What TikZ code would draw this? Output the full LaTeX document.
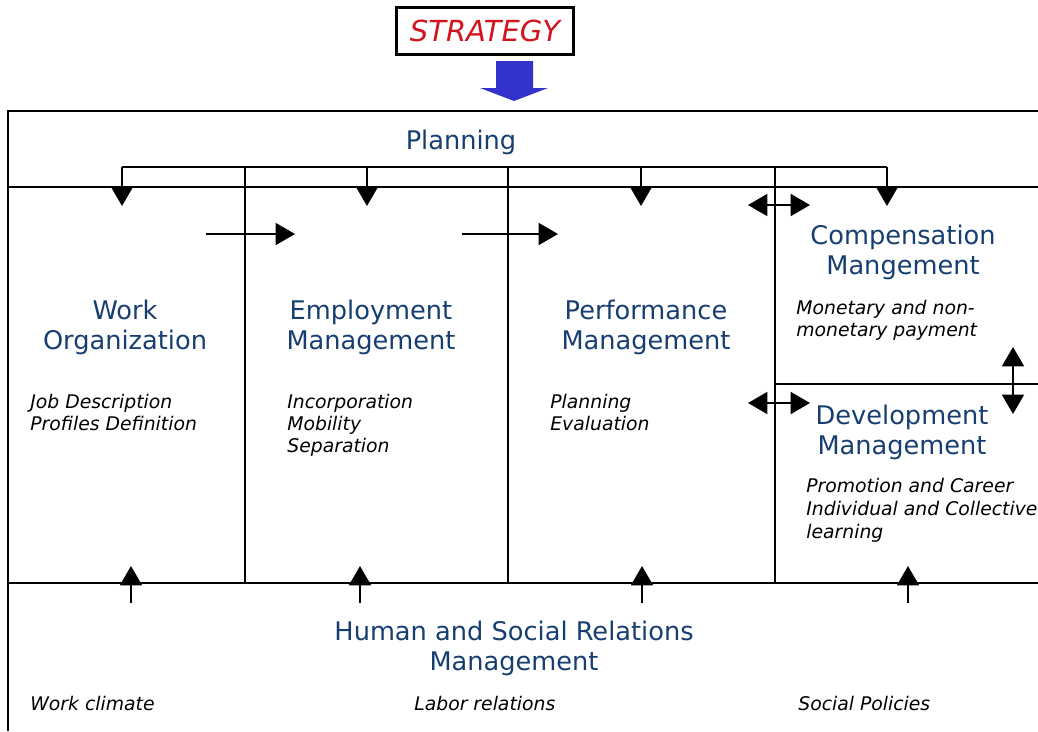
\documentclass[tikz,border=0pt]{standalone}
\usepackage{fontspec}
\setmainfont{DejaVu Sans}
\usetikzlibrary{arrows.meta,positioning}
\definecolor{headblue}{RGB}{23,62,112}
\definecolor{stratred}{RGB}{210,20,30}
\definecolor{arrowblue}{RGB}{51,51,204}
\tikzset{
    frame/.style={line width=1pt},
    flow/.style={line width=1pt,-{Triangle[width=12.5pt,length=11pt]}},
    twoway/.style={line width=1pt,{Triangle[width=12.5pt,length=11pt]}-{Triangle[width=12.5pt,length=11pt]}},
    head/.style={text=headblue,font=\fontsize{14.6}{17}\selectfont,align=center,inner sep=0pt},
    items/.style={font=\fontsize{10.7}{12.6}\selectfont\itshape,align=left,anchor=north west,inner sep=0pt}
}

\begin{document}
\begin{tikzpicture}[x=0.02cm,y=-0.02cm]
    \useasboundingbox (0,0) rectangle (1038,731);

    % Strategy and its arrow
    \node[draw,line width=1.2pt,fill=white,minimum width=3.54cm,minimum height=0.94cm,
          text=stratred,font=\fontsize{16.5}{19}\selectfont\itshape] (strategy) at (485,31) {STRATEGY};
    \fill[arrowblue] (496,61) -- (533,61) -- (533,88) -- (548,88) -- (514,101)
        -- (480,88) -- (496,88) -- cycle;

    % Frame
    \draw[frame] (1038,111) -- (8,111) -- (8,731);
    \draw[frame] (8,187) -- (1038,187);
    \draw[frame] (8,583) -- (1038,583);
    \draw[frame] (775,384) -- (1038,384);
    \foreach \x in {245,508,775}
        \draw[frame] (\x,167) -- (\x,583);

    % Planning
    \node[head] (planning) at (461,142) {Planning};
    \draw[frame] (122,167) -- (887,167);
    \foreach \x [count=\i] in {122,367,641,887} {
        \coordinate (plan\i) at (\x,167);
        \coordinate (unit\i) at (\x,206);
        \draw[flow] (plan\i) -- (unit\i);
    }

    % Areas
    \node[head] (work) at (125,327) {Work\\Organization};
    \node[items] (worklist) at (30,394) {Job Description\\Profiles Definition};
    \node[head] (employ) at (371,327) {Employment\\Management};
    \node[items] (employlist) at (287,394) {Incorporation\\Mobility\\Separation};
    \node[head] (perform) at (646,327) {Performance\\Management};
    \node[items] (performlist) at (550,394) {Planning\\Evaluation};
    \node[head] (comp) at (903,252) {Compensation\\Mangement};
    \node[items] (complist) at (796,300) {Monetary and non-\\monetary payment};
    \node[head] (devel) at (902,432) {Development\\Management};
    \node[items,font=\fontsize{10.7}{13}\selectfont\itshape] (devellist) at (806,478)
        {Promotion and Career\\Individual and Collective\\learning};

    % Flow between areas
    \coordinate (wo) at (206,234);
    \coordinate (em) at (295,234);
    \coordinate (ep) at (462,234);
    \coordinate (pe) at (558,234);
    \draw[flow] (wo) -- (em);
    \draw[flow] (ep) -- (pe);
    \coordinate (pc1) at (748,205);
    \coordinate (pc2) at (810,205);
    \coordinate (pd1) at (748,403);
    \coordinate (pd2) at (810,403);
    \coordinate (cd1) at (1013,347);
    \coordinate (cd2) at (1013,414);
    \draw[twoway] (pc1) -- (pc2);
    \draw[twoway] (pd1) -- (pd2);
    \draw[twoway] (cd1) -- (cd2);

    % Human and social relations
    \node[head] (human) at (514,648) {Human and Social Relations\\Management};
    \foreach \x [count=\i] in {131,360,642,908} {
        \coordinate (base\i) at (\x,603);
        \coordinate (area\i) at (\x,566);
        \draw[flow] (base\i) -- (area\i);
    }
    \node[items] (climate) at (30,696) {Work climate};
    \node[items] (labor) at (414,696) {Labor relations};
    \node[items] (social) at (798,696) {Social Policies};
\end{tikzpicture}
\end{document}
